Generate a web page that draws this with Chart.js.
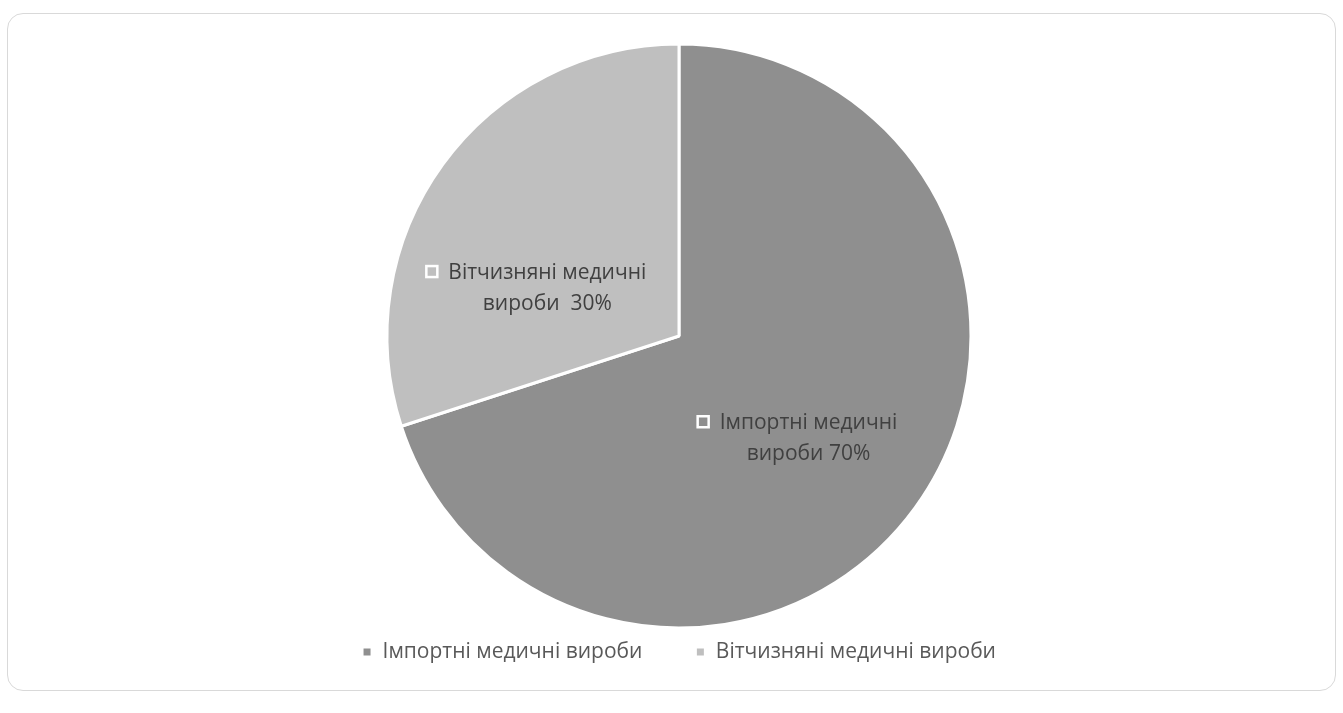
<!DOCTYPE html>
<html><head><meta charset="utf-8">
<script src="https://cdn.jsdelivr.net/npm/chart.js@4"></script>
<style>
html,body{margin:0;padding:0;background:#fff;width:1343px;height:713px;overflow:hidden}
#box{position:absolute;left:7px;top:13px;width:1329px;height:678px;border:1px solid #d9d9d9;border-radius:16px;box-sizing:border-box;overflow:hidden;background:#fff}
canvas{display:block}
</style></head><body>
<div id="box"><canvas id="c" width="1327" height="676"></canvas></div>
<script>
// ---- data ----
const categories = ['Імпортні медичні вироби', 'Вітчизняні медичні вироби'];
const values = [70, 30];
const valueSeparators = [' ', '  '];
// ---- style ----
const sliceColors = ['#8f8f8f', '#bfbfbf'];
const labelRadius = [0.565, 0.48];
const labelAngleShiftDeg = [2.3, -16];
const FONT = '"Open Sans", "DejaVu Sans", sans-serif';

function labelLines(i) {
  const words = categories[i].split(' ');
  const last = words.pop();
  return [words.join(' '), last + valueSeparators[i] + values[i] + '%'];
}

const sliceLabels = {
  id: 'sliceLabels',
  afterDatasetsDraw(chart) {
    const ctx = chart.ctx;
    const meta = chart.getDatasetMeta(0);
    ctx.save();
    ctx.font = '21px ' + FONT;
    ctx.textAlign = 'center';
    ctx.textBaseline = 'middle';
    meta.data.forEach((arc, i) => {
      const p = arc.getProps(['x', 'y', 'startAngle', 'endAngle', 'outerRadius'], true);
      const mid = (p.startAngle + p.endAngle) / 2 + labelAngleShiftDeg[i] * Math.PI / 180;
      const r = p.outerRadius * labelRadius[i];
      const cx = p.x + Math.cos(mid) * r;
      const cy = p.y + Math.sin(mid) * r;
      const lines = labelLines(i);
      const lh = 31;
      const y1 = cy - lh / 2, y2 = cy + lh / 2;
      ctx.fillStyle = '#404040';
      ctx.fillText(lines[0], cx, y1);
      ctx.fillText(lines[1], cx, y2);
      const w1 = ctx.measureText(lines[0]).width;
      const s = 11;
      const mx = cx - w1 / 2 - 11 - s;
      ctx.fillStyle = sliceColors[i];
      ctx.strokeStyle = '#ffffff';
      ctx.lineWidth = 2.5;
      ctx.fillRect(mx, y1 - s / 2 - 1, s, s);
      ctx.strokeRect(mx, y1 - s / 2 - 1, s, s);
    });
    ctx.restore();
  }
};

new Chart(document.getElementById('c'), {
  type: 'pie',
  data: {
    labels: categories,
    datasets: [{
      data: values,
      backgroundColor: sliceColors,
      borderColor: '#ffffff',
      borderWidth: 3,
      clip: false
    }]
  },
  options: {
    responsive: false,
    animation: false,
    radius: 292,
    layout: { padding: { top: 69.5, bottom: 17.5, left: 15, right: 0 } },
    plugins: {
      tooltip: { enabled: false },
      legend: {
        position: 'bottom',
        labels: {
          boxWidth: 10,
          boxHeight: 10,
          padding: 53,
          color: '#595959',
          font: { size: 21, family: FONT }
        }
      }
    }
  },
  plugins: [sliceLabels]
});
</script>
</body></html>
